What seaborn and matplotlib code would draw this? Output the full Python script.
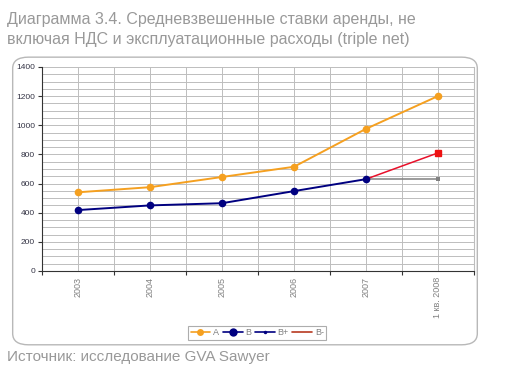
import matplotlib
import matplotlib.pyplot as plt
import seaborn as sns
from matplotlib.lines import Line2D
from matplotlib.patches import FancyBboxPatch
from pandas import DataFrame

matplotlib.use("Agg")

periods = ["2003", "2004", "2005", "2006", "2007", "1 кв. 2008"]
a_vals = [540, 575, 645, 715, 975, 1200]
b_vals = [418, 450, 465, 548, 630]
b_plus = [630, 630]
b_minus = [630, 810]

sns.set_style("white")
plt.rcParams["font.family"] = ["Liberation Sans", "DejaVu Sans"]

idx = list(range(len(periods)))
df_a = DataFrame({"x": idx, "y": a_vals})
df_b = DataFrame({"x": idx[: len(b_vals)], "y": b_vals})
df_bp = DataFrame({"x": idx[4:], "y": b_plus})
df_bm = DataFrame({"x": idx[4:], "y": b_minus})

fig = plt.figure(figsize=(5.28, 3.76), dpi=100)
ax = fig.add_axes([0.0795, 0.2793, 0.818, 0.5426])

# rounded frame round the chart
frame = FancyBboxPatch(
    (0.024, 0.083), 0.88, 0.765,
    boxstyle="round,pad=0,rounding_size=0.03",
    transform=fig.transFigure, fill=False, ec="#b8b8b8", lw=1.0, zorder=0,
)
fig.patches.append(frame)

sns.lineplot(data=df_bp, x="x", y="y", ax=ax, color="#808080", lw=1.1,
             marker="s", markersize=3, markeredgewidth=0, zorder=3)
sns.lineplot(data=df_bm, x="x", y="y", ax=ax, color="#e8102a", lw=1.1, zorder=3)
ax.plot(df_bm["x"].iloc[-1:], df_bm["y"].iloc[-1:], "s", color="#ee1111",
        markersize=5, zorder=4)
sns.lineplot(data=df_a, x="x", y="y", ax=ax, color="#f5a020", lw=1.4,
             marker="o", markersize=5.5, markeredgewidth=0, zorder=4)
sns.lineplot(data=df_b, x="x", y="y", ax=ax, color="#000080", lw=1.4,
             marker="o", markersize=5.5, markeredgewidth=0, zorder=5)

ax.set_xlim(-0.5, len(periods) - 0.5)
ax.set_ylim(0, 1400)
ax.set_yticks(range(0, 1401, 200))
ax.set_yticks(range(0, 1401, 50), minor=True)
ax.set_xticks([i - 0.5 for i in range(len(periods) + 1)])
ax.set_xticks(idx, minor=True)
ax.set_xticklabels([])
ax.set_xticklabels(periods, minor=True, rotation=90, va="top",
                   fontsize=6.5, color="#808080")
ax.tick_params(axis="x", which="minor", length=0, pad=4)
ax.tick_params(axis="x", which="major", length=3, direction="out", color="#333333")
ax.tick_params(axis="y", which="major", length=3, direction="out", color="#333333",
               labelsize=6, labelcolor="#333344", pad=2)
ax.tick_params(axis="y", which="minor", length=0)
ax.tick_params(bottom=True, left=True, which="major")

ax.grid(True, axis="y", which="both", color="#bdbdbd", lw=0.7)
ax.grid(True, axis="x", which="both", color="#bdbdbd", lw=0.7)
ax.set_axisbelow(True)
ax.set_xlabel("")
ax.set_ylabel("")
ax.spines["top"].set_visible(False)
ax.spines["right"].set_color("#bdbdbd")
ax.spines["left"].set_color("#333333")
ax.spines["bottom"].set_color("#333333")

handles = [
    Line2D([], [], color="#f5a020", lw=1.2, marker="o", markersize=5, markeredgewidth=0),
    Line2D([], [], color="#000080", lw=1.2, marker="o", markersize=6, markeredgewidth=0),
    Line2D([], [], color="#000080", lw=1.2, marker="o", markersize=2.5, markeredgewidth=0),
    Line2D([], [], color="#b83a20", lw=1.2),
]
leg = fig.legend(handles, ["A", "B", "B+", "B-"], loc="center",
                 bbox_to_anchor=(0.487, 0.115), ncol=4, fontsize=6.5,
                 frameon=True, fancybox=False, handlelength=2.2,
                 handletextpad=0.3, columnspacing=0.4, borderpad=0.3)
leg.get_frame().set_edgecolor("#999999")
leg.get_frame().set_linewidth(0.8)
for t in leg.get_texts():
    t.set_color("#808080")

fig.text(0.013, 0.968,
         "Диаграмма 3.4. Средневзвешенные ставки аренды, не\n"
         "включая НДС и эксплуатационные расходы (triple net)",
         fontsize=11.5, color="#999999", va="top", ha="left", linespacing=1.4)
fig.text(0.013, 0.05, "Источник: исследование GVA Sawyer",
         fontsize=11, color="#999999", va="center", ha="left")

fig.savefig("out.png", dpi=100)
